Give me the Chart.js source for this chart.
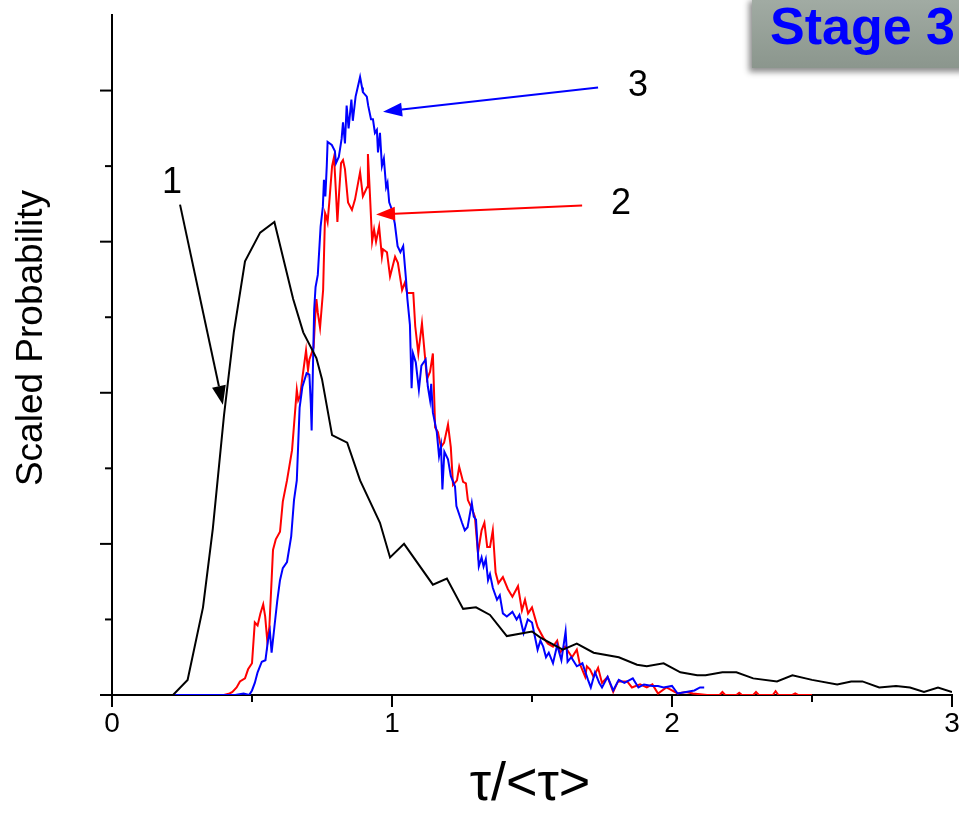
<!DOCTYPE html>
<html>
<head>
<meta charset="utf-8">
<script src="https://cdn.jsdelivr.net/npm/chart.js@4.4.1/dist/chart.umd.min.js"></script>
<style>
  html, body { margin: 0; padding: 0; background: #fff; overflow: hidden; }
  #wrap { position: relative; width: 959px; height: 813px; overflow: hidden; }
  #stage {
    position: absolute; left: 752px; top: -3px; width: 240px; height: 71px;
    box-sizing: border-box; padding: 3px 0 0 18px;
    background: linear-gradient(to bottom, #a2aca4, #8b968d);
    box-shadow: -3px 4px 6px rgba(0,0,0,0.45);
    color: #0000ff; font: bold 52px "Liberation Sans", Arial, sans-serif; line-height: 53px;
    white-space: nowrap;
  }
</style>
</head>
<body>
<div id="wrap">
  <canvas id="chart" width="959" height="813"></canvas>
  <div id="stage">Stage 3</div>
</div>
<script>
// curve 1 (black)
var blackX = [0, 0.218, 0.27, 0.325, 0.36, 0.40, 0.435, 0.475, 0.529, 0.58, 0.647, 0.683, 0.73, 0.75, 0.786, 0.84, 0.886,
  0.957, 0.993, 1.043, 1.146, 1.196, 1.254, 1.30, 1.35, 1.41, 1.50, 1.53, 1.61, 1.66, 1.72, 1.81, 1.875, 1.91, 1.97,
  2.03, 2.09, 2.12, 2.18, 2.23, 2.29, 2.375, 2.43, 2.50, 2.59, 2.64, 2.68, 2.74, 2.80, 2.85, 2.90, 2.95, 3.0];
var blackY = [0, 0, 0.1, 0.58, 1.1, 1.85, 2.4, 2.87, 3.06, 3.13, 2.62, 2.4, 2.23, 2.09, 1.72, 1.67, 1.42,
  1.14, 0.91, 1.0, 0.73, 0.77, 0.57, 0.58, 0.53, 0.39, 0.42, 0.38, 0.30, 0.34, 0.28, 0.25, 0.2, 0.19, 0.21,
  0.15, 0.13, 0.13, 0.15, 0.15, 0.11, 0.09, 0.13, 0.10, 0.07, 0.09, 0.09, 0.05, 0.06, 0.05, 0.02, 0.05, 0.02];

// curve 2 (red)
var redX = [0, 0.40, 0.42, 0.43, 0.445, 0.457, 0.475, 0.486, 0.50, 0.51, 0.52, 0.53, 0.54, 0.547, 0.555, 0.562, 0.57, 0.575,
  0.585, 0.60, 0.61, 0.625, 0.643, 0.66, 0.665, 0.672, 0.68, 0.693, 0.70, 0.705, 0.72, 0.725, 0.73, 0.735, 0.743, 0.754,
  0.761, 0.765, 0.77, 0.776, 0.786, 0.793, 0.8, 0.805, 0.811, 0.818, 0.825, 0.832, 0.843, 0.857, 0.868, 0.886, 0.896,
  0.911, 0.914, 0.921, 0.929, 0.936, 0.943, 0.954, 0.964, 0.968, 0.982, 0.993, 1.011, 1.021, 1.036, 1.046, 1.054, 1.076,
  1.083, 1.094, 1.107, 1.125, 1.136, 1.146, 1.154, 1.164, 1.175, 1.186, 1.2, 1.21, 1.218, 1.232, 1.24, 1.254, 1.264,
  1.271, 1.286, 1.296, 1.307, 1.32, 1.33, 1.34, 1.35, 1.36, 1.37, 1.38, 1.396, 1.414, 1.43, 1.45, 1.464, 1.475, 1.486,
  1.50, 1.52, 1.54, 1.557, 1.575, 1.59, 1.6, 1.618, 1.643, 1.66, 1.67, 1.69, 1.696, 1.707, 1.72, 1.736, 1.75, 1.77,
  1.79, 1.807, 1.84, 1.857, 1.886, 1.91, 1.93, 1.95, 1.98, 2.02, 2.05, 2.075, 2.125, 2.17, 2.18, 2.19, 2.23, 2.24, 2.25,
  2.29, 2.30, 2.31, 2.36, 2.37, 2.38, 2.43, 2.44, 2.45, 2.5];
var redY = [0, 0, 0.01, 0.02, 0.05, 0.09, 0.11, 0.17, 0.21, 0.48, 0.46, 0.54, 0.60, 0.52, 0.35, 0.45, 0.76, 0.96,
  1.03, 1.08, 1.28, 1.42, 1.62, 2.02, 1.95, 1.98, 2.1, 2.28, 2.15, 2.22, 2.3, 2.48, 2.62, 2.53, 2.43, 2.68,
  3.19, 3.17, 3.13, 3.26, 3.5, 3.56, 3.32, 3.13, 3.32, 3.52, 3.54, 3.48, 3.26, 3.21, 3.28, 3.46, 3.3,
  3.36, 3.58, 3.32, 3.0, 3.08, 3.0, 3.1, 2.9, 2.95, 2.93, 2.77, 2.9, 2.86, 2.68, 2.73, 2.66, 2.66,
  2.44, 2.26, 2.46, 2.09, 2.14, 2.26, 1.77, 1.74, 1.64, 1.67, 1.79, 1.64, 1.39, 1.42, 1.51, 1.41, 1.4,
  1.29, 1.23, 1.18, 0.94, 1.09, 1.14, 0.98, 0.98, 1.09, 0.81, 0.74, 0.78, 0.7, 0.65, 0.72, 0.56, 0.63, 0.54,
  0.58, 0.45, 0.38, 0.34, 0.32, 0.36, 0.28, 0.32, 0.25, 0.3, 0.21, 0.12, 0.19, 0.17, 0.12, 0.18, 0.08, 0.12,
  0.02, 0.09, 0.09, 0.05, 0.07, 0.05, 0.07, 0.01, 0.05, 0.01, 0.02, 0.01, 0, 0, 0.02, 0, 0, 0.015, 0,
  0, 0.02, 0, 0, 0.025, 0, 0, 0.01, 0, 0];

// curve 3 (blue)
var blueX = [0, 0.40, 0.44, 0.47, 0.49, 0.50, 0.51, 0.52, 0.535, 0.548, 0.557, 0.564, 0.57, 0.58, 0.59, 0.60, 0.61, 0.625,
  0.64, 0.65, 0.66, 0.67, 0.68, 0.695, 0.705, 0.71, 0.713, 0.718, 0.722, 0.727, 0.735, 0.745, 0.753, 0.757, 0.762,
  0.767, 0.77, 0.785, 0.796, 0.80, 0.81, 0.82, 0.825, 0.832, 0.838, 0.845, 0.855, 0.86, 0.87, 0.875, 0.886, 0.893,
  0.896, 0.91, 0.915, 0.925, 0.932, 0.939, 0.946, 0.95, 0.957, 0.964, 0.971, 0.979, 0.984, 0.99, 1.0, 1.01, 1.02,
  1.03, 1.04, 1.05, 1.055, 1.064, 1.07, 1.075, 1.085, 1.096, 1.105, 1.12, 1.128, 1.136, 1.14, 1.146, 1.16, 1.168,
  1.175, 1.18, 1.187, 1.2, 1.21, 1.225, 1.23, 1.25, 1.26, 1.27, 1.285, 1.292, 1.30, 1.31, 1.32, 1.327, 1.335, 1.343,
  1.35, 1.36, 1.375, 1.385, 1.396, 1.41, 1.43, 1.445, 1.455, 1.47, 1.485, 1.50, 1.52, 1.53, 1.54, 1.55, 1.56, 1.575,
  1.59, 1.605, 1.62, 1.627, 1.64, 1.66, 1.68, 1.70, 1.71, 1.725, 1.74, 1.75, 1.77, 1.79, 1.81, 1.83, 1.86, 1.88,
  1.90, 1.93, 1.95, 1.97, 2.0, 2.02, 2.05, 2.08, 2.10, 2.115];
var blueY = [0, 0, 0, 0.01, 0, 0.03, 0.08, 0.15, 0.22, 0.23, 0.36, 0.42, 0.28, 0.45, 0.62, 0.76, 0.84, 0.88,
  1.05, 1.29, 1.42, 1.9, 2.04, 2.13, 2.12, 1.93, 1.75, 2.2, 2.55, 2.7, 2.78, 3.1, 3.23, 3.41, 3.3,
  3.5, 3.66, 3.64, 3.6, 3.52, 3.56, 3.68, 3.79, 3.65, 3.9, 3.75, 3.94, 3.8, 3.96, 4.0, 4.09, 4.02,
  3.99, 3.96, 3.9, 3.81, 3.81, 3.72, 3.74, 3.59, 3.72, 3.5, 3.55, 3.36, 3.39, 3.26, 3.21, 3.12, 2.97,
  2.93, 2.97, 2.75, 2.62, 2.45, 2.03, 2.26, 2.2, 2.02, 2.18, 2.22, 2.04, 1.95, 2.06, 1.87, 1.74, 1.58,
  1.65, 1.36, 1.61, 1.56, 1.45, 1.38, 1.25, 1.14, 1.09, 1.11, 1.27, 1.18, 1.16, 0.85, 0.91, 0.85, 0.9, 0.76,
  0.8, 0.71, 0.63, 0.66, 0.54, 0.52, 0.55, 0.5, 0.53, 0.41, 0.5, 0.48, 0.30, 0.36, 0.32, 0.25, 0.28, 0.21,
  0.33, 0.23, 0.42, 0.22, 0.25, 0.19, 0.21, 0.10, 0.05, 0.15, 0.08, 0.05, 0.12, 0.03, 0.10, 0.08, 0.11, 0.05,
  0.07, 0.06, 0.06, 0.05, 0.06, 0.01, 0.02, 0.03, 0.05, 0.05];

var xTicks = [0, 0.5, 1, 1.5, 2, 2.5, 3];
var xLabels = [0, 1, 2, 3];
var yTicks = [0, 0.5, 1, 1.5, 2, 2.5, 3, 3.5, 4];

// curve labels and arrows, in data units: [label, labelX, labelY, fromX, fromY, toX, toY, colour]
var notes = [
  ['1', 0.214, 3.39, 0.243, 3.245, 0.396, 1.92, '#000000'],
  ['2', 1.818, 3.25, 1.679, 3.24, 0.943, 3.18, '#ff0000'],
  ['3', 1.879, 4.03, 1.736, 4.02, 0.968, 3.86, '#0000ff']
];

function pts(xs, ys) {
  return xs.map(function (x, i) { return { x: x, y: ys[i] }; });
}

var FONT = '"Liberation Sans", Arial, sans-serif';

var extras = {
  id: 'extras',
  afterDraw: function (chart) {
    var ctx = chart.ctx, xs = chart.scales.x, ys = chart.scales.y, a = chart.chartArea;
    ctx.save();
    // tick marks, long on whole numbers
    ctx.strokeStyle = '#000';
    ctx.lineWidth = 2;
    xTicks.forEach(function (v) {
      var px = xs.getPixelForValue(v), len = (v % 1 === 0) ? 12 : 7;
      ctx.beginPath(); ctx.moveTo(px, a.bottom); ctx.lineTo(px, a.bottom + len); ctx.stroke();
    });
    yTicks.forEach(function (v) {
      var py = ys.getPixelForValue(v), len = (v % 1 === 0) ? 12 : 7;
      ctx.beginPath(); ctx.moveTo(a.left, py); ctx.lineTo(a.left - len, py); ctx.stroke();
    });

    ctx.fillStyle = '#000';
    ctx.textAlign = 'center';
    ctx.textBaseline = 'middle';
    // tick labels
    ctx.font = '28px ' + FONT;
    xLabels.forEach(function (v) {
      ctx.fillText(String(v), xs.getPixelForValue(v), a.bottom + 29);
    });

    // axis titles
    ctx.font = '54px ' + FONT;
    ctx.fillText('\u03c4/<\u03c4>', 530, 785);
    ctx.save();
    ctx.translate(32, 338);
    ctx.rotate(-Math.PI / 2);
    ctx.font = '37px ' + FONT;
    ctx.fillText('Scaled Probability', 0, 0);
    ctx.restore();

    // arrows with numbers
    notes.forEach(function (n) {
      var lx = xs.getPixelForValue(n[1]), ly = ys.getPixelForValue(n[2]);
      var x0 = xs.getPixelForValue(n[3]), y0 = ys.getPixelForValue(n[4]);
      var x1 = xs.getPixelForValue(n[5]), y1 = ys.getPixelForValue(n[6]);
      ctx.fillStyle = '#000';
      ctx.font = '36px ' + FONT;
      ctx.fillText(n[0], lx, ly);
      var ang = Math.atan2(y1 - y0, x1 - x0), hl = 19, hw = 7;
      var bx = x1 - hl * Math.cos(ang), by = y1 - hl * Math.sin(ang);
      ctx.strokeStyle = n[7];
      ctx.fillStyle = n[7];
      ctx.lineWidth = 2;
      ctx.beginPath(); ctx.moveTo(x0, y0); ctx.lineTo(bx, by); ctx.stroke();
      ctx.beginPath();
      ctx.moveTo(x1, y1);
      ctx.lineTo(bx + hw * Math.sin(ang), by - hw * Math.cos(ang));
      ctx.lineTo(bx - hw * Math.sin(ang), by + hw * Math.cos(ang));
      ctx.closePath();
      ctx.fill();
    });
    ctx.restore();
  }
};

var line = function (data, colour) {
  return { data: data, borderColor: colour, borderWidth: 2, pointRadius: 0, tension: 0, fill: false, showLine: true };
};

new Chart(document.getElementById('chart'), {
  type: 'scatter',
  data: {
    datasets: [
      line(pts(blackX, blackY), '#000000'),
      line(pts(blueX, blueY), '#0000ff'),
      line(pts(redX, redY), '#ff0000')
    ]
  },
  options: {
    responsive: false,
    animation: false,
    layout: { padding: { top: 15, right: 7, left: 0, bottom: 0 } },
    plugins: { legend: { display: false }, tooltip: { enabled: false } },
    scales: {
      x: {
        type: 'linear', min: 0, max: 3,
        grid: { display: true, drawOnChartArea: false, drawTicks: false },
        border: { display: true, color: '#000', width: 2 },
        ticks: { display: false },
        afterFit: function (s) { s.height = 118; s.paddingLeft = 0; s.paddingRight = 0; }
      },
      y: {
        type: 'linear', min: 0, max: 4.5,
        grid: { display: true, drawOnChartArea: false, drawTicks: false },
        border: { display: true, color: '#000', width: 2 },
        ticks: { display: false },
        afterFit: function (s) { s.width = 112; s.paddingTop = 0; s.paddingBottom = 0; }
      }
    }
  },
  plugins: [extras]
});
</script>
</body>
</html>
